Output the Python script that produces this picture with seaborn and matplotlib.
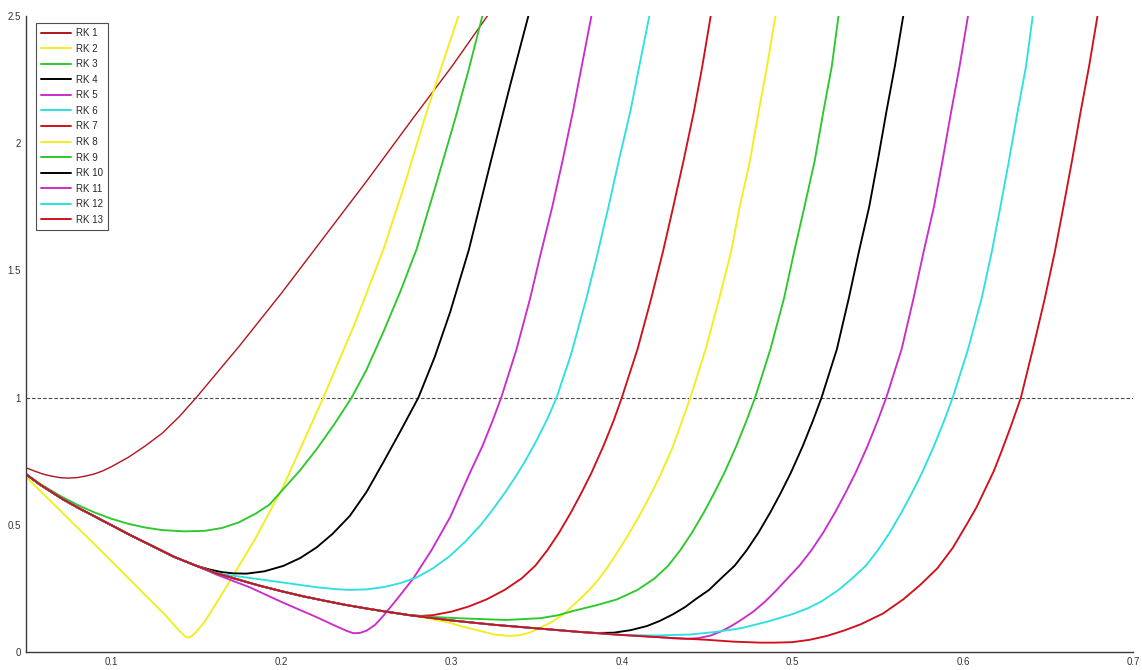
import matplotlib
matplotlib.use("Agg")
import matplotlib.pyplot as plt
import seaborn as sns
import pandas as pd

# ---------------- data ----------------
labels = ["RK 1", "RK 2", "RK 3", "RK 4", "RK 5", "RK 6", "RK 7",
          "RK 8", "RK 9", "RK 10", "RK 11", "RK 12", "RK 13"]

# common decreasing branch shared by the later curves before they leave it
envelope_x = [0.05, 0.058, 0.065, 0.072, 0.08, 0.09, 0.1, 0.112, 0.125, 0.137, 0.15, 0.162, 0.175,
              0.187, 0.2, 0.212, 0.225, 0.237, 0.25, 0.262, 0.275, 0.3, 0.325, 0.35, 0.375, 0.4,
              0.425, 0.45]
envelope_y = [0.70, 0.66, 0.63, 0.60, 0.57, 0.535, 0.50, 0.458, 0.415, 0.375, 0.34, 0.31, 0.285,
              0.262, 0.24, 0.221, 0.203, 0.187, 0.172, 0.159, 0.146, 0.125, 0.108, 0.094, 0.08, 0.068,
              0.058, 0.049]

rk1_x = [0.05, 0.055, 0.06, 0.065, 0.07, 0.075, 0.08, 0.085, 0.09, 0.095, 0.1, 0.11, 0.12, 0.13,
         0.14, 0.15, 0.16, 0.175, 0.2, 0.225, 0.25, 0.277, 0.3, 0.321]
rk1_y = [0.725, 0.712, 0.70, 0.692, 0.686, 0.684, 0.686, 0.692, 0.70, 0.712, 0.728, 0.765, 0.81, 0.86,
         0.925, 1.0, 1.08, 1.2, 1.41, 1.63, 1.85, 2.095, 2.3, 2.5]

rk2_x = [0.05, 0.075, 0.1, 0.12, 0.132, 0.136, 0.14, 0.143, 0.145, 0.147, 0.15, 0.155, 0.168, 0.185,
         0.201, 0.2246, 0.243, 0.26, 0.272, 0.284, 0.294, 0.304]
rk2_y = [0.69, 0.525, 0.36, 0.225, 0.145, 0.115, 0.085, 0.065, 0.058, 0.062, 0.08, 0.12, 0.26, 0.45,
         0.65, 1.0, 1.29, 1.584, 1.83, 2.095, 2.3, 2.5]

rk3_x = [0.05, 0.06, 0.07, 0.08, 0.09, 0.1, 0.11, 0.12, 0.13, 0.143, 0.155, 0.165, 0.175, 0.185,
         0.193, 0.201, 0.211, 0.2207, 0.231, 0.2412, 0.25, 0.2598, 0.27, 0.2794, 0.29, 0.302, 0.31, 0.318]
rk3_y = [0.70, 0.655, 0.615, 0.58, 0.55, 0.525, 0.505, 0.49, 0.48, 0.475, 0.477, 0.488, 0.51, 0.545,
         0.58, 0.64, 0.715, 0.798, 0.895, 1.0, 1.11, 1.257, 1.42, 1.584, 1.82, 2.095, 2.29, 2.5]

rk4_x = [0.158, 0.165, 0.172, 0.1796, 0.19, 0.201, 0.211, 0.2207, 0.23, 0.2402, 0.25, 0.2598, 0.27,
         0.2804, 0.29, 0.299, 0.31, 0.323, 0.334, 0.345]
rk4_y = [0.325, 0.315, 0.31, 0.309, 0.318, 0.339, 0.37, 0.412, 0.465, 0.536, 0.63, 0.746, 0.87,
         1.0, 1.16, 1.335, 1.58, 1.93, 2.22, 2.5]

rk5_x = [0.162, 0.1815, 0.201, 0.22, 0.232, 0.238, 0.2422, 0.246, 0.25, 0.255, 0.2598, 0.268, 0.2774,
         0.288, 0.299, 0.311, 0.318, 0.324, 0.329, 0.338, 0.346, 0.352, 0.359, 0.365, 0.371, 0.382]
rk5_y = [0.305, 0.255, 0.195, 0.14, 0.103, 0.085, 0.075, 0.076, 0.085, 0.108, 0.143, 0.21, 0.29,
         0.40, 0.53, 0.71, 0.81, 0.91, 1.0, 1.19, 1.39, 1.56, 1.75, 1.93, 2.12, 2.5]

rk6_x = [0.165, 0.1815, 0.201, 0.22, 0.232, 0.24, 0.25, 0.26, 0.27, 0.2794, 0.289, 0.299, 0.308, 0.317,
         0.324, 0.331, 0.337, 0.343, 0.35, 0.356, 0.3615, 0.37, 0.379, 0.385, 0.392, 0.398, 0.405,
         0.41, 0.416]
rk6_y = [0.307, 0.292, 0.274, 0.256, 0.248, 0.245, 0.247, 0.256, 0.272, 0.294, 0.33, 0.379, 0.435, 0.50,
         0.56, 0.625, 0.685, 0.75, 0.835, 0.915, 1.0, 1.17, 1.39, 1.55, 1.75, 1.93, 2.13,
         2.3, 2.5]

rk7_x = [0.265, 0.275, 0.282, 0.289, 0.3, 0.31, 0.3205, 0.331, 0.341, 0.349, 0.356, 0.363, 0.37, 0.376,
         0.382, 0.389, 0.395, 0.3998, 0.409, 0.417, 0.424, 0.43, 0.436, 0.442, 0.447, 0.452]
rk7_y = [0.156, 0.146, 0.143, 0.146, 0.16, 0.18, 0.208, 0.245, 0.29, 0.34, 0.40, 0.47, 0.55, 0.625,
         0.705, 0.81, 0.91, 1.0, 1.19, 1.388, 1.575, 1.75, 1.93, 2.12, 2.3, 2.5]

rk8_x = [0.287, 0.297, 0.307, 0.3166, 0.325, 0.334, 0.34, 0.346, 0.352, 0.359, 0.3655, 0.375, 0.38,
         0.386, 0.391, 0.396, 0.403, 0.41, 0.416, 0.422, 0.429, 0.435, 0.44, 0.449, 0.457, 0.464, 0.469,
         0.475, 0.48, 0.485, 0.490]
rk8_y = [0.132, 0.119, 0.10, 0.084, 0.07, 0.064, 0.067, 0.078, 0.097, 0.12, 0.149, 0.208, 0.24,
         0.285, 0.33, 0.38, 0.455, 0.535, 0.61, 0.69, 0.795, 0.905, 1.0, 1.19, 1.39, 1.575, 1.75,
         1.93, 2.12, 2.3, 2.5]

rk9_x = [0.265, 0.275, 0.285, 0.307, 0.332, 0.352, 0.362, 0.371, 0.385, 0.397, 0.409, 0.419, 0.427,
         0.434, 0.441, 0.448, 0.454, 0.46, 0.467, 0.473, 0.478, 0.487, 0.495, 0.501, 0.507, 0.513,
         0.518, 0.523, 0.527]
rk9_y = [0.157, 0.147, 0.140, 0.133, 0.127, 0.134, 0.145, 0.162, 0.185, 0.208, 0.245, 0.29, 0.34,
         0.40, 0.47, 0.55, 0.625, 0.705, 0.81, 0.91, 1.0, 1.19, 1.39, 1.575, 1.75, 1.93,
         2.12, 2.3, 2.5]

rk10_x = [0.385, 0.395, 0.405, 0.4145, 0.422, 0.43, 0.437, 0.443, 0.451, 0.458, 0.466, 0.473, 0.48,
          0.487, 0.493, 0.499, 0.506, 0.512, 0.517, 0.526, 0.533, 0.539, 0.545, 0.55, 0.555, 0.56, 0.565]
rk10_y = [0.076, 0.077, 0.087, 0.103, 0.123, 0.15, 0.178, 0.208, 0.245, 0.29, 0.34, 0.40, 0.47,
          0.55, 0.625, 0.705, 0.81, 0.91, 1.0, 1.19, 1.39, 1.575, 1.75, 1.93, 2.12, 2.3, 2.5]

rk11_x = [0.43, 0.438, 0.445, 0.452, 0.458, 0.464, 0.47, 0.477, 0.484, 0.49, 0.497, 0.504, 0.511,
          0.518, 0.525, 0.531, 0.537, 0.544, 0.55, 0.555, 0.564, 0.571, 0.577, 0.583, 0.588, 0.593,
          0.598, 0.603]
rk11_y = [0.055, 0.053, 0.056, 0.066, 0.082, 0.103, 0.128, 0.16, 0.2, 0.24, 0.29, 0.34, 0.40,
          0.47, 0.55, 0.625, 0.705, 0.81, 0.91, 1.0, 1.19, 1.39, 1.575, 1.75, 1.93, 2.12,
          2.3, 2.5]

rk12_x = [0.42, 0.44, 0.455, 0.47, 0.485, 0.5, 0.509, 0.517, 0.527, 0.535, 0.543, 0.55, 0.557, 0.564,
          0.57, 0.576, 0.583, 0.589, 0.594, 0.603, 0.611, 0.617, 0.622, 0.627, 0.632, 0.637, 0.641]
rk12_y = [0.066, 0.07, 0.08, 0.095, 0.12, 0.15, 0.173, 0.2, 0.245, 0.29, 0.34, 0.40, 0.47, 0.55,
          0.625, 0.705, 0.81, 0.91, 1.0, 1.19, 1.39, 1.575, 1.75, 1.93, 2.12, 2.3, 2.5]

rk13_x = [0.465, 0.481, 0.49, 0.5, 0.51, 0.52, 0.53, 0.54, 0.553, 0.565, 0.575, 0.585, 0.594, 0.602,
          0.608, 0.613, 0.618, 0.622, 0.628, 0.634, 0.641, 0.648, 0.654, 0.659, 0.664, 0.669, 0.674, 0.679]
rk13_y = [0.042, 0.038, 0.038, 0.040, 0.049, 0.064, 0.085, 0.11, 0.152, 0.208, 0.265, 0.33, 0.41, 0.5,
          0.57, 0.64, 0.71, 0.778, 0.885, 1.0, 1.19, 1.388, 1.575, 1.75, 1.93, 2.12, 2.3, 2.5]

reference_level = 1.0
x_ticks = [0.1, 0.2, 0.3, 0.4, 0.5, 0.6, 0.7]
x_tick_labels = ["0.1", "0.2", "0.3", "0.4", "0.5", "0.6", "0.7"]
y_ticks = [0, 0.5, 1, 1.5, 2, 2.5]
y_tick_labels = ["0", "0.5", "1", "1.5", "2", "2.5"]

# ---------------- styling ----------------
colors = ["#b0141e", "#f2ee1e", "#2cc82c", "#000000", "#cc2ccc", "#2ee0e0", "#d0101c",
          "#f2ee1e", "#2cc82c", "#000000", "#cc2ccc", "#2ee0e0", "#d0101c"]
widths = [1.0] + [1.35] * 12

sns.set_theme(style="white")
plt.rcParams["font.family"] = ["Liberation Sans", "DejaVu Sans"]

fig = plt.figure(figsize=(11.42, 6.70), dpi=100)
ax = fig.add_axes([0.0226, 0.0264, 0.9698, 0.9502])


def with_envelope(tail_x, tail_y):
    """Prefix a curve's own points with the shared branch it follows first."""
    head = [(x, y) for x, y in zip(envelope_x, envelope_y) if x < tail_x[0] - 1e-9]
    return [h[0] for h in head] + list(tail_x), [h[1] for h in head] + list(tail_y)


series = [(rk1_x, rk1_y), (rk2_x, rk2_y), (rk3_x, rk3_y)]
for tx, ty in [(rk4_x, rk4_y), (rk5_x, rk5_y), (rk6_x, rk6_y), (rk7_x, rk7_y), (rk8_x, rk8_y),
               (rk9_x, rk9_y), (rk10_x, rk10_y), (rk11_x, rk11_y), (rk12_x, rk12_y),
               (rk13_x, rk13_y)]:
    series.append(with_envelope(tx, ty))

for lab, (xs, ys), c, w in zip(labels, series, colors, widths):
    df = pd.DataFrame({"x": xs, "y": ys})
    sns.lineplot(data=df, x="x", y="y", ax=ax, color=c, lw=w, label=lab,
                 sort=False, estimator=None)

ax.axhline(reference_level, color="#4a4a4a", lw=0.8, ls=(0, (3.2, 1.8)), zorder=0.5)

ax.set_xlim(0.05, 0.7)
ax.set_ylim(0, 2.5)
ax.set_xticks(x_ticks)
ax.set_xticklabels(x_tick_labels)
ax.set_yticks(y_ticks)
ax.set_yticklabels(y_tick_labels)
ax.set_xlabel("")
ax.set_ylabel("")

for side in ["top", "right"]:
    ax.spines[side].set_visible(False)
for side in ["left", "bottom"]:
    ax.spines[side].set_color("#3a3a3a")
    ax.spines[side].set_linewidth(1.0)

ax.tick_params(axis="both", direction="in", length=8, width=0.9, color="#3a3a3a",
               labelcolor="#333333", labelsize=7, pad=3.5)

leg = ax.legend(loc="upper left", bbox_to_anchor=(0.0092, 0.988), borderaxespad=0,
                fontsize=7, frameon=True, fancybox=False, edgecolor="#222222",
                handlelength=3.1, handletextpad=0.55, labelspacing=0.57, borderpad=0.5)
leg.get_frame().set_linewidth(0.8)
for line in leg.get_lines():
    line.set_linewidth(1.4)

fig.savefig("out.png", dpi=100, facecolor="white")
